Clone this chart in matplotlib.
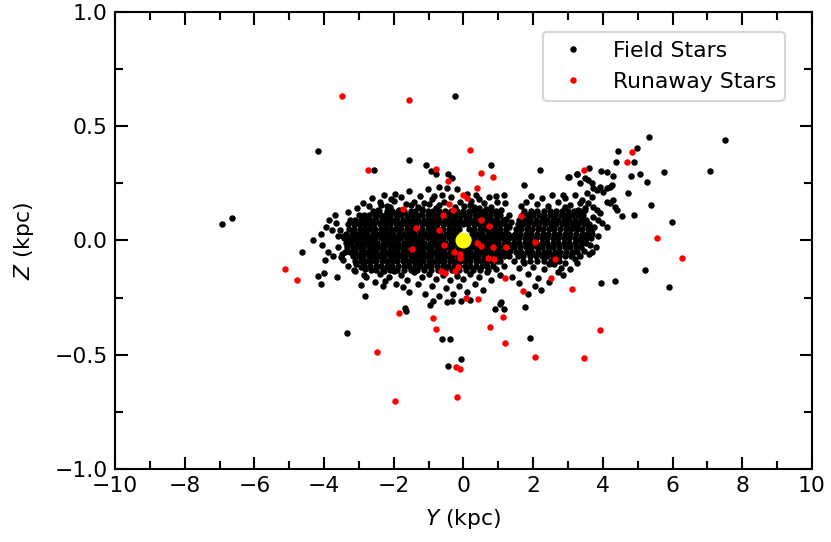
import numpy as np
import matplotlib.pyplot as plt

# Runaway stars (Y, Z) in kpc
runaway_y = [-3.50, -2.75, -1.57, 0.18, -0.80, -0.44, 0.50, 0.86, 0.39, -0.02, 0.09, -1.74,
             -0.42, -0.30, -0.59, 0.50, 0.72, 1.65, -1.36, -0.69, -0.56, -1.49, -0.28, -0.09,
             -0.10, 0.40, 0.50, 0.84, 1.21, 0.70, 0.88, -0.16, -0.24, -0.65, -0.52, 2.04,
             2.63, 1.19, 2.50, 1.70, 0.06, 0.43, -1.85, -0.88, -0.78, 0.76, 1.13, 1.18,
             2.04, -2.47, -0.22, -0.10, -1.97, -0.18, -5.13, -4.79, 4.83, 4.70, 3.47, 5.55,
             6.27, 3.12, 3.92, 3.45]
runaway_z = [0.632, 0.309, 0.613, 0.395, 0.313, 0.260, 0.297, 0.277, 0.230, 0.200, 0.187, 0.137,
             0.160, 0.133, 0.110, 0.088, 0.062, 0.109, 0.056, 0.047, -0.021, -0.036, -0.050, -0.058,
             -0.078, -0.010, -0.024, -0.027, -0.027, -0.077, -0.080, -0.117, -0.132, -0.135, -0.144, -0.008,
             -0.080, -0.164, -0.166, -0.221, -0.252, -0.257, -0.319, -0.341, -0.386, -0.380, -0.335, -0.447,
             -0.508, -0.489, -0.555, -0.564, -0.704, -0.686, -0.126, -0.173, 0.386, 0.342, 0.309, 0.010,
             -0.075, -0.214, -0.392, -0.513]

# Field stars away from the dense cores
field_y = [-4.17, -2.58, -6.64, -6.93, -3.78, -4.33, -4.64, -3.97, -4.00, -4.18, -4.09, -3.63,
           -3.51, -3.09, -3.15, -2.82, -2.85, -2.95, -2.82, -3.35, -3.46, -3.11, -0.25, -1.57,
           -1.08, -0.93, -0.79, -0.44, -0.32, -0.48, -0.69, 0.79, 2.19, 1.73, 3.01, -0.84,
           0.45, 0.94, 1.19, -1.97, -2.07, -2.37, -2.19, -1.50, -1.19, -0.98, -0.71, 0.19,
           0.30, 0.65, 1.23, 1.92, -0.61, -0.38, -0.08, -0.44, 0.91, 1.17, 1.08, 1.04,
           1.77, -1.69, -1.65, -0.96, -0.88, -0.48, -0.33, -0.08, 0.19, -1.73, -2.25, -2.28,
           2.21, 1.86, 2.79, 2.85, 2.46, 5.33, 7.50, 4.98, 4.89, 4.43, 4.38, 3.61,
           5.75, 7.06, 5.06, 4.82, 5.26, 5.37, 5.98, 4.88, 4.55, 4.72, 3.95, 4.12,
           4.30, 3.03, 3.27, 2.86, 2.92, 2.86, 5.22, 5.90, 4.36, 3.95, 3.25, 3.34,
           3.63, 3.45, 3.61, 3.10, 3.25, 3.34, 3.49, 3.58, 3.68, 3.72, 3.82, 3.92,
           4.01, 4.11, 4.20, 4.25, 3.53, 3.68, 3.39, 3.58, 3.72, 3.82, 3.92, 4.11,
           4.20, 4.30, 3.49, 3.29, 3.20, 3.72, 3.87, 3.97, 4.11, 2.96, 3.15, 3.63,
           4.40, 4.35]
field_z = [0.393, 0.309, 0.098, 0.072, 0.046, 0.000, -0.050, -0.087, -0.141, -0.157, -0.192, -0.158,
           -0.072, -0.101, -0.131, -0.123, -0.151, -0.193, -0.244, -0.406, 0.020, 0.007, 0.631, 0.354,
           0.330, 0.303, 0.291, 0.290, 0.272, 0.230, 0.234, 0.332, 0.307, 0.242, 0.277, 0.195,
           0.182, 0.196, 0.164, 0.205, 0.183, 0.157, 0.151, 0.154, 0.137, 0.160, 0.154, 0.155,
           0.148, 0.137, 0.096, -0.427, -0.431, -0.430, -0.520, -0.549, -0.301, -0.298, -0.269, -0.279,
           -0.291, -0.297, -0.309, -0.282, -0.266, -0.270, -0.265, -0.263, -0.260, -0.202, -0.177, -0.135,
           -0.218, -0.234, -0.119, -0.152, -0.101, 0.452, 0.438, 0.406, 0.342, 0.390, 0.342, 0.319,
           0.300, 0.305, 0.291, 0.282, 0.257, 0.154, 0.082, 0.112, 0.106, 0.207, 0.305, 0.298,
           0.282, 0.278, 0.291, 0.199, 0.148, 0.112, -0.129, -0.204, -0.177, -0.187, -0.098, 0.002,
           -0.020, -0.045, -0.059, -0.060, 0.291, 0.250, 0.272, 0.265, 0.250, 0.228, 0.221, 0.235,
           0.214, 0.228, 0.235, 0.243, 0.206, 0.192, 0.177, 0.163, 0.148, 0.133, 0.119, 0.170,
           0.163, 0.177, 0.133, 0.133, 0.119, 0.104, 0.090, 0.075, 0.060, 0.068, 0.053, 0.053,
           0.133, 0.148]

# Field stars around the edges of the two dense clumps
halo_y = [-3.30, -3.05, -2.88, -2.70, -2.62, -2.45, -2.40, -2.28, -2.12, -2.00, -1.85, -1.80,
          -1.66, -1.55, -1.42, -1.30, -1.25, -1.12, -1.02, -0.90, -0.80, -0.62, -0.55, -0.35,
          -0.25, -0.20, -0.10, 0.02, 0.10, 0.22, 0.35, 0.45, 0.58, 0.72, 0.80, 0.95,
          1.08, 1.15,
          -3.45, -3.30, -3.10, -2.95, -2.80, -2.65, -2.55, -2.40, -2.30, -2.15, -2.00, -1.95,
          -1.80, -1.62, -1.55, -1.42, -1.30, -1.18, -1.10, -1.00, -0.90, -0.78, -0.70, -0.60,
          -0.50, -0.40, -0.30, -0.20, -0.12, 0.00, 0.10, 0.20, 0.32, 0.45, 0.55, 0.68,
          0.80, 0.92, 1.05, 1.15,
          -4.10, -4.05, -3.95, -3.90, -3.85, -3.75, -3.70, -3.60, -3.55, -3.60, -3.50, -3.65,
          1.65, 1.80, 1.95, 2.10, 2.25, 2.42, 2.55, 2.70, 2.90, 3.05, 3.20, 3.35,
          3.50, 1.45, 1.60, 1.75, 1.85, 2.00, 2.15, 2.30, 2.45, 2.60, 2.70, 2.90,
          3.05, 3.20, 3.35, 1.60, 2.05, 1.40, 3.75, 3.85, 3.80, 3.70,
          1.30, 1.35, 1.32, 1.38, 1.30, 1.36, 1.34]
halo_z = [0.125, 0.140, 0.165, 0.150, 0.185, 0.135, 0.170, 0.200, 0.145, 0.172, 0.135, 0.190,
          0.158, 0.215, 0.170, 0.145, 0.195, 0.162, 0.225, 0.180, 0.140, 0.200, 0.168, 0.190,
          0.145, 0.225, 0.170, 0.150, 0.205, 0.172, 0.200, 0.140, 0.165, 0.190, 0.145, 0.170,
          0.135, 0.200,
          -0.085, -0.110, -0.135, -0.115, -0.160, -0.130, -0.180, -0.145, -0.200, -0.160, -0.135, -0.190,
          -0.150, -0.175, -0.225, -0.140, -0.190, -0.160, -0.235, -0.145, -0.200, -0.170, -0.245, -0.150,
          -0.210, -0.175, -0.235, -0.155, -0.200, -0.170, -0.225, -0.145, -0.190, -0.160, -0.215, -0.140,
          -0.175, -0.125, -0.150, -0.110,
          0.030, -0.020, 0.060, -0.050, 0.090, -0.070, 0.110, 0.020, 0.045, -0.030, -0.060, 0.075,
          0.150, 0.170, 0.195, 0.160, 0.185, 0.150, 0.200, 0.170, 0.185, 0.155, 0.200, 0.165,
          0.140, -0.090, -0.120, -0.100, -0.145, -0.115, -0.165, -0.125, -0.180, -0.105, -0.140, -0.100,
          -0.125, -0.080, -0.070, -0.185, -0.200, -0.160, 0.060, 0.020, -0.030, -0.050,
          0.060, -0.020, 0.110, 0.020, -0.070, 0.080, -0.045]

# Solid part of the clump left of the Sun: Z level -> Y positions
left_core = {
    0.13: [-2.6, -2.42, -2.2, -2.05, -1.88, -1.7, -1.52, -1.38, -1.2, -1.02, -0.88, -0.7,
           -0.52, -0.35, -0.18, -0.02, 0.15, 0.3, 0.48, 0.62, 0.78, 0.92],
    0.11: [-3.0, -2.85, -2.7, -2.55, -2.4, -2.25, -2.1, -1.95, -1.8, -1.62, -1.48, -1.33,
           -1.18, -1.03, -0.88, -0.73, -0.58, -0.43, -0.28, -0.13, 0.02, 0.17, 0.32, 0.47,
           0.62, 0.77, 0.92, 1.05],
    0.09: [-3.25, -3.1, -2.95, -2.8, -2.64, -2.5, -2.34, -2.2, -2.05, -1.9, -1.75, -1.6,
           -1.44, -1.3, -1.14, -0.99, -0.84, -0.69, -0.54, -0.39, -0.24, -0.09, 0.06, 0.22,
           0.36, 0.51, 0.67, 0.82, 0.97, 1.12],
    0.07: [-3.3, -3.15, -3.0, -2.86, -2.7, -2.56, -2.4, -2.26, -2.1, -1.95, -1.8,
           -1.66, -1.5, -1.35, -1.2, -1.05, -0.9, -0.75, -0.6, -0.45, -0.3, -0.15, 0.0,
           0.14, 0.29, 0.44, 0.59, 0.74, 0.89, 1.04, 1.18],
    0.05: [-3.28, -3.13, -2.98, -2.83, -2.68, -2.53, -2.38, -2.23, -2.08, -1.93,
           -1.78, -1.63, -1.48, -1.33, -1.18, -1.03, -0.88, -0.73, -0.58, -0.43, -0.28, -0.13,
           0.16, 0.31, 0.46, 0.61, 0.76, 0.91, 1.06, 1.22],
    0.03: [-3.36, -3.21, -3.06, -2.91, -2.76, -2.61, -2.46, -2.31, -2.16, -2.01,
           -1.86, -1.71, -1.56, -1.41, -1.26, -1.11, -0.96, -0.81, -0.66, -0.51, -0.36, -0.21,
           0.24, 0.39, 0.54, 0.69, 0.84, 0.99, 1.14, 1.28],
    0.01: [-3.44, -3.28, -3.13, -2.98, -2.83, -2.68, -2.53, -2.38, -2.23, -2.08,
           -1.93, -1.78, -1.63, -1.48, -1.33, -1.18, -1.03, -0.88, -0.73, -0.58, -0.43, -0.28,
           0.31, 0.46, 0.61, 0.76, 0.91, 1.06, 1.2, 1.3],
    -0.01: [-3.38, -3.22, -3.07, -2.92, -2.77, -2.62, -2.47, -2.32, -2.17, -2.02,
            -1.87, -1.72, -1.57, -1.42, -1.27, -1.12, -0.97, -0.82, -0.67, -0.52, -0.37, -0.22,
            0.25, 0.4, 0.55, 0.7, 0.85, 1.0, 1.15, 1.28],
    -0.03: [-3.33, -3.17, -3.02, -2.87, -2.72, -2.57, -2.42, -2.27, -2.12, -1.97,
            -1.82, -1.67, -1.52, -1.37, -1.22, -1.07, -0.92, -0.77, -0.62, -0.47, -0.32, -0.17,
            -0.02, 0.13, 0.28, 0.43, 0.58, 0.73, 0.88, 1.03, 1.18],
    -0.05: [-3.4, -3.25, -3.1, -2.95, -2.8, -2.65, -2.5, -2.35, -2.2, -2.05, -1.9,
            -1.75, -1.6, -1.45, -1.3, -1.15, -1.0, -0.85, -0.7, -0.55, -0.4, -0.25, -0.1,
            0.05, 0.2, 0.35, 0.5, 0.65, 0.8, 0.95, 1.1, 1.22],
    -0.07: [-3.17, -3.02, -2.87, -2.72, -2.57, -2.42, -2.27, -2.12, -1.97, -1.82, -1.67,
            -1.52, -1.37, -1.22, -1.07, -0.92, -0.77, -0.62, -0.47, -0.32, -0.17, -0.02, 0.13,
            0.28, 0.43, 0.58, 0.73, 0.88, 1.03, 1.15],
    -0.09: [-3.12, -2.95, -2.8, -2.65, -2.5, -2.35, -2.2, -2.05, -1.9, -1.75, -1.6, -1.45,
            -1.3, -1.15, -1.0, -0.85, -0.7, -0.55, -0.4, -0.25, -0.1, 0.05, 0.2, 0.35,
            0.5, 0.65, 0.8, 0.95, 1.05],
    -0.11: [-2.85, -2.68, -2.52, -2.36, -2.2, -2.04, -1.88, -1.72, -1.56, -1.4, -1.24, -1.08,
            -0.92, -0.76, -0.6, -0.44, -0.28, -0.12, 0.04, 0.2, 0.36, 0.52, 0.68, 0.85],
    -0.13: [-2.5, -2.3, -2.12, -1.92, -1.72, -1.52, -1.32, -1.12, -0.92, -0.72, -0.52, -0.32,
            -0.12, 0.08, 0.28, 0.48, 0.7],
}

# Solid part of the clump right of the Sun: Z level -> Y positions
right_core = {
    0.13: [1.75, 1.95, 2.12, 2.3, 2.48, 2.65, 2.82, 3.0, 3.18, 3.35],
    0.11: [1.68, 1.84, 2.0, 2.16, 2.32, 2.48, 2.64, 2.8, 2.96, 3.12, 3.28, 3.44],
    0.09: [1.6, 1.76, 1.92, 2.08, 2.24, 2.4, 2.56, 2.72, 2.88, 3.04, 3.2, 3.36, 3.52],
    0.07: [1.55, 1.7, 1.86, 2.02, 2.18, 2.34, 2.5, 2.66, 2.82, 2.98, 3.14, 3.3, 3.46, 3.6],
    0.05: [1.5, 1.65, 1.81, 1.97, 2.13, 2.29, 2.45, 2.61, 2.77, 2.93, 3.09, 3.25, 3.41, 3.57, 3.7],
    0.03: [1.48, 1.63, 1.79, 1.95, 2.11, 2.27, 2.43, 2.59, 2.75, 2.91, 3.07, 3.23, 3.39, 3.55,
           3.68],
    0.01: [1.45, 1.6, 1.76, 1.92, 2.08, 2.24, 2.4, 2.56, 2.72, 2.88, 3.04, 3.2, 3.36, 3.52, 3.65],
    -0.01: [1.44, 1.6, 1.76, 1.92, 2.08, 2.24, 2.4, 2.56, 2.72, 2.88, 3.04, 3.2, 3.36, 3.52],
    -0.03: [1.46, 1.62, 1.78, 1.94, 2.1, 2.26, 2.42, 2.58, 2.74, 2.9, 3.06, 3.22, 3.38],
    -0.05: [1.5, 1.66, 1.82, 1.98, 2.14, 2.3, 2.46, 2.62, 2.78, 2.94, 3.1, 3.25],
    -0.07: [1.55, 1.72, 1.9, 2.07, 2.24, 2.41, 2.58, 2.75, 2.92, 3.08],
    -0.09: [1.7, 1.9, 2.1, 2.3, 2.5, 2.75],
}

sun_y, sun_z = [0.0], [0.0]

# collect all field stars
all_y = list(field_y) + list(halo_y)
all_z = list(field_z) + list(halo_z)
for core in (left_core, right_core):
    for z, ys in core.items():
        all_y += ys
        all_z += [z] * len(ys)

plt.rcParams['font.size'] = 10.5
fig = plt.figure(figsize=(831 / 150, 542 / 150), dpi=150)
ax = fig.add_axes([0.1384, 0.1347, 0.8387, 0.8432])

ax.plot(all_y, all_z, 'o', color='black', ms=3.1, mew=0, label='Field Stars')
ax.plot(runaway_y, runaway_z, 'o', color='red', ms=3.1, mew=0, label='Runaway Stars')
ax.plot(sun_y, sun_z, 'o', color='yellow', ms=7.7, mew=0, zorder=5)

ax.set_xlim(-10, 10)
ax.set_ylim(-1, 1)
ax.set_xticks(np.arange(-10, 11, 2))
ax.set_xticks(np.arange(-10, 11, 1), minor=True)
ax.set_yticks([-1.0, -0.5, 0.0, 0.5, 1.0])
ax.set_yticks(np.arange(-1, 1.01, 0.25), minor=True)
ax.tick_params(which='both', direction='in', top=True, right=True, width=1.0)
ax.tick_params(which='major', length=6)
ax.tick_params(which='minor', length=4)
for s in ax.spines.values():
    s.set_linewidth(1.0)

ax.set_xlabel('$Y$ (kpc)', labelpad=5)
ax.set_ylabel('$Z$ (kpc)', labelpad=9)
ax.legend(loc='upper right', bbox_to_anchor=(0.961, 0.956), borderaxespad=0)

fig.savefig('out.png', dpi=150)
